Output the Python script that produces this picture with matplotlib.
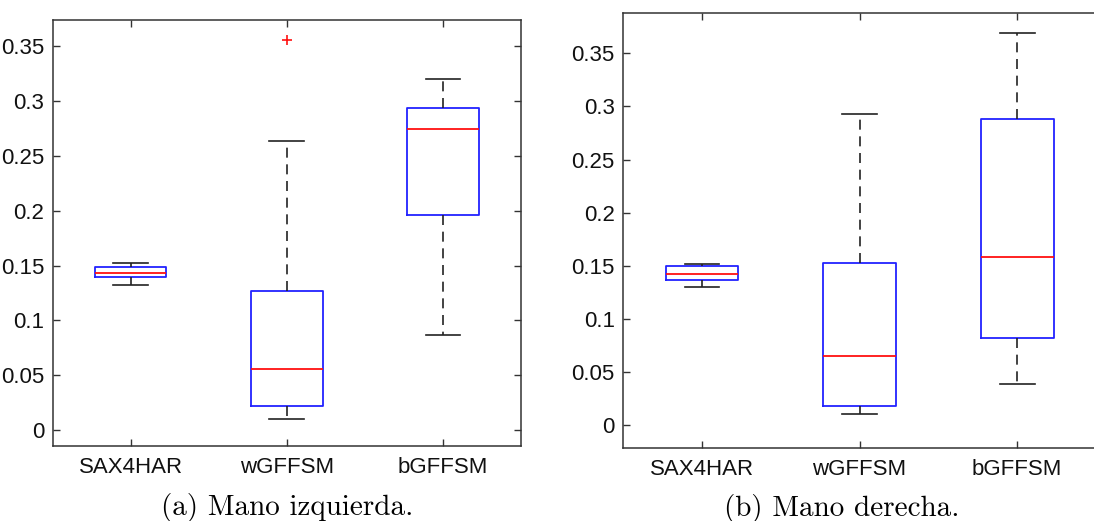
import matplotlib
matplotlib.use("Agg")
import matplotlib.pyplot as plt

# ====== DATA ======
METHODS = ["SAX4HAR", "wGFFSM", "bGFFSM"]

# left hand: (whisker low, q1, median, q3, whisker high)
LEFT_WHISLO = [0.132, 0.010, 0.087]
LEFT_Q1     = [0.140, 0.022, 0.196]
LEFT_MED    = [0.143, 0.056, 0.275]
LEFT_Q3     = [0.149, 0.127, 0.294]
LEFT_WHISHI = [0.152, 0.264, 0.320]
LEFT_FLIERS = [[], [0.356], []]

# right hand
RIGHT_WHISLO = [0.130, 0.010, 0.039]
RIGHT_Q1     = [0.137, 0.018, 0.082]
RIGHT_MED    = [0.142, 0.065, 0.158]
RIGHT_Q3     = [0.150, 0.153, 0.288]
RIGHT_WHISHI = [0.152, 0.293, 0.369]
RIGHT_FLIERS = [[], [], []]

YTICKS = [0, 0.05, 0.1, 0.15, 0.2, 0.25, 0.3, 0.35]
YTICKLABELS = ["0", "0.05", "0.1", "0.15", "0.2", "0.25", "0.3", "0.35"]

CAPTIONS = ["(a) Mano izquierda.", "(b) Mano derecha."]


def make_stats(wlo, q1, med, q3, whi, fliers):
    stats = []
    for i, name in enumerate(METHODS):
        stats.append({
            "label": name, "whislo": wlo[i], "q1": q1[i], "med": med[i],
            "q3": q3[i], "whishi": whi[i], "fliers": fliers[i],
        })
    return stats


def draw_panel(ax, stats, ylim, right_side=True):
    ax.bxp(
        stats, positions=[1, 2, 3], widths=0.46, capwidths=0.22,
        boxprops=dict(color="#2222ff", linewidth=1.3),
        medianprops=dict(color="#ff1010", linewidth=1.3),
        whiskerprops=dict(color="#222222", linewidth=1.2, linestyle=(0, (6, 4))),
        capprops=dict(color="#222222", linewidth=1.2),
        flierprops=dict(marker="+", markeredgecolor="#ff1010", markersize=7,
                        markeredgewidth=1.2, linestyle="none"),
    )
    ax.set_xlim(0.5, 3.5)
    ax.set_ylim(*ylim)
    ax.set_yticks(YTICKS)
    ax.set_yticklabels(YTICKLABELS)
    ax.set_xticks([1, 2, 3])
    ax.set_xticklabels(METHODS)
    ax.tick_params(direction="in", top=True, right=right_side, length=5, width=1,
                   color="#333333", labelsize=16, pad=6, labelcolor="#111111")
    ax.tick_params(axis="x", pad=8)
    for s in ax.spines.values():
        s.set_color("#333333")
        s.set_linewidth(1.1)
    if not right_side:
        ax.spines["right"].set_visible(False)


plt.rcParams["font.family"] = ["Liberation Sans", "DejaVu Sans"]

fig = plt.figure(figsize=(10.94, 5.21), dpi=100)
ax_l = fig.add_axes([0.048, 0.144, 0.428, 0.817])
ax_r = fig.add_axes([0.5695, 0.140, 0.4324, 0.835])

draw_panel(ax_l, make_stats(LEFT_WHISLO, LEFT_Q1, LEFT_MED, LEFT_Q3,
                            LEFT_WHISHI, LEFT_FLIERS), (-0.0146, 0.3737))
draw_panel(ax_r, make_stats(RIGHT_WHISLO, RIGHT_Q1, RIGHT_MED, RIGHT_Q3,
                            RIGHT_WHISHI, RIGHT_FLIERS), (-0.0217, 0.388),
           right_side=False)

fig.text(0.2628, 0.012, CAPTIONS[0], ha="center", va="baseline",
         family="cmr10", fontsize=21)
fig.text(0.769, 0.010, CAPTIONS[1], ha="center", va="baseline",
         family="cmr10", fontsize=21)

fig.savefig("out.png", dpi=100)
